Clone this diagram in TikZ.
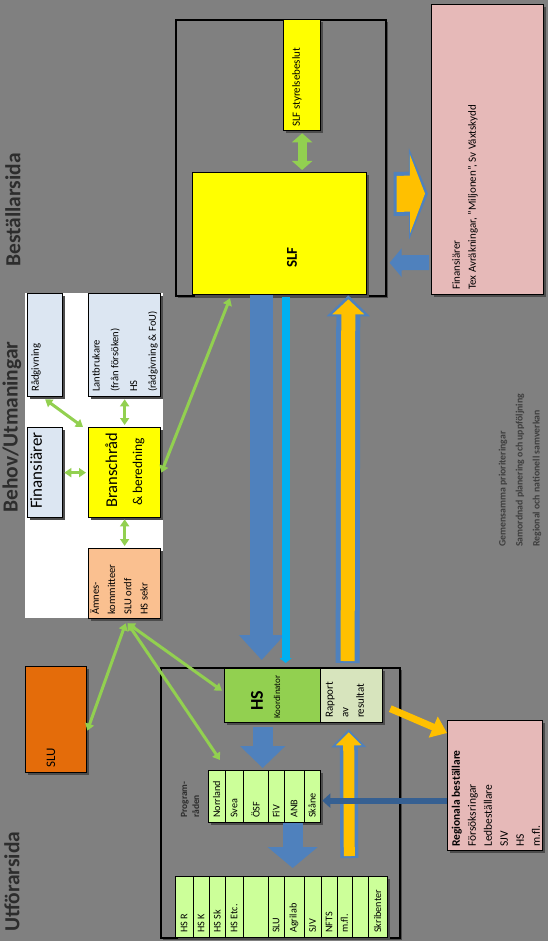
\documentclass[tikz,border=0pt]{standalone}
\usepackage{fontspec}
\setmainfont{Carlito}
\usetikzlibrary{arrows.meta, calc, positioning, shadows}

\definecolor{bggray}{RGB}{128,128,128}
\definecolor{slfyellow}{RGB}{255,255,0}
\definecolor{paleblue}{RGB}{220,230,242}
\definecolor{peach}{RGB}{250,192,144}
\definecolor{pinkbox}{RGB}{230,185,184}
\definecolor{sluorange}{RGB}{228,108,10}
\definecolor{hsgreen}{RGB}{146,208,80}
\definecolor{rapgreen}{RGB}{215,228,189}
\definecolor{cellgreen}{RGB}{204,255,153}
\definecolor{arrowblue}{RGB}{79,129,189}
\definecolor{darkblue}{RGB}{54,96,146}
\definecolor{cyanline}{RGB}{0,176,240}
\definecolor{goldarrow}{RGB}{255,192,0}
\definecolor{greenarrow}{RGB}{146,208,80}
\definecolor{headgray}{RGB}{45,45,45}
\definecolor{fadedtext}{RGB}{62,62,62}

\begin{document}
\begin{tikzpicture}[x=1pt,y=-1pt,
  box/.style={draw=black, line width=1.3pt, inner sep=0pt, anchor=north west,
    drop shadow={shadow xshift=2.5pt, shadow yshift=-2.5pt, fill=black!70, opacity=1}},
  outerframe/.style={draw=black, line width=1.6pt, fill=bggray, inner sep=0pt, anchor=north west,
    drop shadow={shadow xshift=2pt, shadow yshift=-2pt, fill=black!70, opacity=1}},
  lbl/.style={rotate=90, anchor=west, inner sep=0pt, align=left, font=\fontsize{11}{16}\selectfont},
  heading/.style={rotate=90, anchor=west, inner sep=0pt, text=headgray, font=\fontsize{21.5}{24}\selectfont\bfseries},
  link/.style={draw=greenarrow, line width=3pt, {Triangle[width=9pt,length=7pt]}-{Triangle[width=9pt,length=7pt]}}]
\useasboundingbox (0,0) rectangle (548,941);
\fill[bggray] (0,0) rectangle (548,941);

% bestallarsida
\node[outerframe, minimum width=210pt, minimum height=276pt] at (175,19) (slfframe) {};
\node[box, fill=slfyellow, minimum width=37pt, minimum height=111pt] at (283,19) (styrelse) {};
\node[lbl] at (297,127) (styrelsetext) {SLF styrelsebeslut};
\node[box, fill=slfyellow, minimum width=174pt, minimum height=122pt] at (192,172) (slf) {};
\node[lbl, font=\fontsize{15}{16}\selectfont\bfseries] at (292,268) (slftext) {SLF};
\node[box, fill=pinkbox, minimum width=112pt, minimum height=290pt] at (431,4) (finpink) {};
\node[lbl] at (465,290) (finpinktext) {Finansiärer\\Tex Avräkningar, "Miljonen", Sv Växtskydd};

% behov
\node[fill=white, inner sep=0pt, anchor=north west, minimum width=138pt, minimum height=325pt] at (25,293) (behovbg) {};
\node[box, fill=paleblue, minimum width=35pt, minimum height=103pt] at (27,293) (radg) {};
\node[lbl, font=\fontsize{10.8}{12}\selectfont] at (36,392) (radgtext) {Rådgivning};
\node[box, fill=paleblue, minimum width=72pt, minimum height=103pt] at (88,293) (lantbr) {};
\node[lbl, font=\fontsize{10.6}{18.7}\selectfont] at (125,392) (lantbrtext) {Lantbrukare\\(från försöken)\\HS\\(rådgivning \& FoU)};
\node[box, fill=paleblue, minimum width=35pt, minimum height=90pt] at (27,427) (fin) {};
\node[lbl, font=\fontsize{17}{18}\selectfont] at (36,509) (fintext) {Finansiärer};
\node[box, fill=slfyellow, minimum width=72pt, minimum height=90pt] at (88,427) (bransch) {};
\node[lbl, font=\fontsize{16.5}{25}\selectfont] at (125,508) (branschtext) {Branschråd\\\hspace*{2pt}{\fontsize{13.5}{25}\selectfont\& beredning}};
\node[box, fill=peach, minimum width=72pt, minimum height=70pt] at (88,548) (amnes) {};
\node[lbl, font=\fontsize{10.6}{16.3}\selectfont] at (119,615) (amnestext) {Ämnes-\\kommitteer\\SLU ordf\\HS sekr};

% utforarsida
\node[box, fill=sluorange, minimum width=61pt, minimum height=106pt] at (25,666) (slu) {};
\node[lbl, font=\fontsize{13}{14}\selectfont] at (51,768) (slutext) {SLU};
\node[outerframe, minimum width=239pt, minimum height=270pt] at (160,667) (hsframe) {};
\node[box, fill=hsgreen, minimum width=96pt, minimum height=54pt] at (224,668) (hs) {};
\node[box, fill=rapgreen, minimum width=62pt, minimum height=54pt] at (320,668) (rapport) {};
\node[lbl, font=\fontsize{18}{20}\selectfont\bfseries] at (257,711) (hstext) {HS};
\node[lbl, font=\fontsize{9}{10}\selectfont] at (277,719) (koordtext) {Koordinator};
\node[lbl, font=\fontsize{11}{15.5}\selectfont] at (345,718) (rapporttext) {Rapport\\av\\resultat};

\node[box, fill=cellgreen, minimum width=112pt, minimum height=52pt] at (208,770) (prog) {};
\foreach \xl/\xr/\txt [count=\i] in {208/225/Norrland, 225/243/Svea, 243/268/ÖSF, 268/284/FiV, 284/304/ANB, 304/320/Skåne}{
  \draw[line width=0.6pt] (\xl,770) -- (\xl,822);
  \node[lbl, font=\fontsize{10.2}{11}\selectfont] at ({(\xl+\xr)/2},818) (prog\i) {\txt};
}
\node[lbl, text=headgray, font=\fontsize{9.5}{12}\selectfont\bfseries] at (190,818) (progtext) {Program-\\råden};

\node[box, fill=cellgreen, minimum width=212pt, minimum height=61pt] at (175,876) (utfor) {};
\foreach \xl/\xr/\txt [count=\i] in {175/193/HS R, 193/209/HS K, 209/225/HS Sk, 225/243/HS Etc., 243/268/, 268/284/SLU, 284/304/Agrilab, 304/321/SJV, 321/337/NFTS, 337/352/m.fl., 352/368/, 368/387/Skribenter}{
  \draw[line width=0.6pt] (\xl,876) -- (\xl,937);
  \node[lbl, font=\fontsize{10.2}{11}\selectfont] at ({(\xl+\xr)/2},933) (utfor\i) {\txt};
}

\node[box, fill=pinkbox, minimum width=95pt, minimum height=130pt] at (447,720) (regional) {};
\node[lbl, font=\fontsize{11.5}{16}\selectfont] at (496,847) (regionaltext) {\textbf{Regionala beställare}\\Försöksringar\\Ledbeställare\\SJV\\HS\\m.fl.};

% rubriker
\node[heading] at (13,267) (bestsida) {Beställarsida};
\node[heading] at (12,513) (behovsida) {Behov/Utmaningar};
\node[heading] at (12,932) (utfsida) {Utförarsida};
\node[lbl, text=fadedtext, font=\fontsize{9.8}{17}\selectfont\bfseries] at (520,547) (gemtext) {Gemensamma prioriteringar\\Samordnad planering och uppföljning\\Regional och nationell samverkan};

% green links
\draw[link] ([yshift=-2pt]radg.south) to ([xshift=-5pt]bransch.north west);
\draw[link] ([yshift=-2pt]lantbr.south) to ([yshift=2pt]bransch.north);
\draw[link] ([xshift=1pt]fin.east) to ([xshift=-2pt]bransch.west);
\draw[link] ([yshift=-1pt]bransch.south) to ([yshift=2pt]amnes.north);
\draw[link] (bransch.east) to ([xshift=38pt,yshift=-3pt]slf.south west);
\draw[link] ([xshift=1pt,yshift=-4pt]amnes.south) to ([yshift=-11pt]slu.east);
\draw[link] ([xshift=3pt,yshift=-4pt]amnes.south) to ([xshift=-2pt,yshift=5pt]hs.west);
\draw[link] ([xshift=3pt,yshift=-4pt]amnes.south) to ([xshift=12pt,yshift=10pt]prog.north west);
\draw[draw=greenarrow, line width=9pt, {Triangle[width=20pt,length=9pt]}-{Triangle[width=20pt,length=9pt]}] ([yshift=-2pt]styrelse.south) to ([xshift=22.5pt,yshift=2pt]slf.north);

% block arrows
\draw[arrowblue, line width=23pt, -{Triangle[width=44pt,length=25pt]}] ([xshift=-18pt]slf.south) to ([xshift=-11pt,yshift=8pt]hs.north);
\draw[cyanline, line width=8pt, -{Triangle[width=12pt,length=5pt]}] ([xshift=6pt,yshift=-2pt]slf.south) to ([xshift=13pt,yshift=5pt]hs.north);
\draw[arrowblue, line width=24pt, -{Triangle[width=42pt,length=21pt]}] ([xshift=-4pt,yshift=5pt]rapport.north) to ([xshift=-19pt]slf.south east);
\draw[goldarrow, line width=14pt, -{Triangle[width=31pt,length=15pt]}, shorten <=2pt] ([xshift=-4pt,yshift=5pt]rapport.north) to ([xshift=-19pt,yshift=-4pt]slf.south east);

\draw[arrowblue, line width=44pt, -{Triangle[width=91pt,length=19pt]}] ([xshift=7pt,yshift=-36pt]slfframe.east) to ([xshift=-3pt,yshift=-44pt]finpink.west);
\draw[goldarrow, line width=36pt, -{Triangle[width=78pt,length=15pt]}, shorten <=3pt] ([xshift=7pt,yshift=-36pt]slfframe.east) to ([xshift=-6pt,yshift=-44pt]finpink.west);
\draw[arrowblue, line width=15pt, -{Triangle[width=28pt,length=12pt]}] ([xshift=-2pt,yshift=-113pt]finpink.west) to ([xshift=3pt,yshift=-105pt]slfframe.east);

\draw[arrowblue, line width=20pt, -{Triangle[width=44pt,length=22pt]}] ([xshift=-10pt,yshift=-4pt]hs.south) to ([xshift=-2pt,yshift=2pt]prog.north);
\draw[arrowblue, line width=20pt, -{Triangle[width=49pt,length=21pt]}] ([xshift=28pt]prog.south) to ([xshift=11pt,yshift=8pt]utfor.north);
\draw[arrowblue, line width=18pt, -{Triangle[width=34pt,length=18pt]}] ([xshift=-39pt,yshift=18pt]utfor.north east) to ([xshift=-3pt,yshift=-6pt]rapport.south);
\draw[goldarrow, line width=11pt, -{Triangle[width=25pt,length=13pt]}, shorten <=2pt] ([xshift=-39pt,yshift=18pt]utfor.north east) to ([xshift=-3pt,yshift=-9pt]rapport.south);
\draw[darkblue, line width=6pt, -{Triangle[width=14pt,length=8pt]}] ([yshift=-15pt]regional.west) to ([xshift=1pt,yshift=-4pt]prog.east);
\draw[goldarrow, line width=7pt, -{Triangle[width=22pt,length=15pt]}] ([xshift=7pt,yshift=-13pt]rapport.east) to ([yshift=-13pt]regional.north west);
\end{tikzpicture}
\end{document}
